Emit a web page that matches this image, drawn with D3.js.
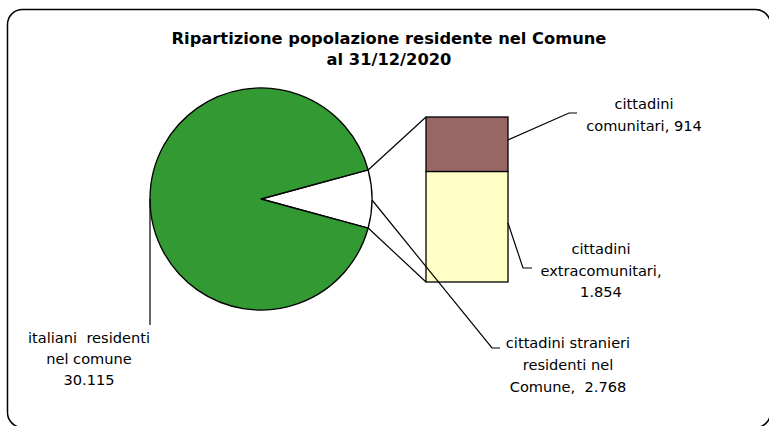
<!DOCTYPE html>
<html>
<head>
<meta charset="utf-8">
<script src="https://cdn.jsdelivr.net/npm/d3@7"></script>
<style>
  body { margin: 0; background: #fff; }
  text { font-family: "DejaVu Sans", sans-serif; fill: #000; white-space: pre; }
</style>
</head>
<body>
<div id="chart"></div>
<script>
// pie slices: italiani vs stranieri
var sliceNames = ["italiani residenti nel comune", "cittadini stranieri residenti nel Comune"];
var sliceValues = [30115, 2768];
// bar breaking down the stranieri slice (bottom -> top)
var barNames = ["cittadini extracomunitari", "cittadini comunitari"];
var barValues = [1854, 914];

var titleLines = ["Ripartizione popolazione residente nel Comune", "al 31/12/2020"];
var italianiLines = ["italiani  residenti", "nel comune", "30.115"];
var stranieriLines = ["cittadini stranieri", "residenti nel", "Comune,  2.768"];
var extraLines = ["cittadini", "extracomunitari,", "1.854"];
var comuniLines = ["cittadini", "comunitari, 914"];

var svgWidth = 769;
var svgHeight = 426;

var svg = d3.select('#chart').append('svg')
    .attr('width', svgWidth)
    .attr('height', svgHeight);

// chart frame
svg.append('rect')
    .attr('x', 7.5).attr('y', 9.5)
    .attr('width', 763).attr('height', 418)
    .attr('rx', 15).attr('ry', 15)
    .attr('fill', '#fff')
    .attr('stroke', '#000')
    .attr('stroke-width', 1.5);

// title
svg.append('text')
    .attr('text-anchor', 'middle')
    .style('font-weight', 'bold')
    .style('font-size', '16.3px')
    .selectAll('tspan')
    .data(titleLines)
    .enter()
    .append('tspan')
    .attr('x', 389)
    .attr('y', (d, i) => 44 + i * 21)
    .text(d => d);

// pie
var cx = 261, cy = 199, radius = 111;
var total = d3.sum(sliceValues);
var wedge = 2 * Math.PI * sliceValues[1] / total;
var pie = d3.pie()
    .sort(null)
    .startAngle(Math.PI / 2 - wedge / 2)
    .endAngle(Math.PI / 2 - wedge / 2 + 2 * Math.PI);
// stranieri first so it sits centred on the right
var arcs = pie([sliceValues[1], sliceValues[0]]);
var arc = d3.arc().innerRadius(0).outerRadius(radius);

var pieG = svg.append('g').attr('transform', `translate(${cx},${cy})`);
pieG.selectAll('path')
    .data(arcs)
    .enter()
    .append('path')
    .attr('d', arc)
    .attr('fill', (d, i) => i == 0 ? '#ffffff' : '#339933')
    .attr('stroke', '#000')
    .attr('stroke-width', 1.3)
    .attr('stroke-linejoin', 'round');

function pointAt(a) {
    return [cx + radius * Math.sin(a), cy - radius * Math.cos(a)];
}
var wedgeTop = pointAt(arcs[0].startAngle);
var wedgeBottom = pointAt(arcs[0].endAngle);

// stacked bar
var barTotal = d3.sum(barValues);
var xBar = d3.scaleBand().domain(["stranieri"]).range([426, 508]).padding(0);
var yBar = d3.scaleLinear().domain([0, barTotal]).range([282, 117]);
var stacked = [];
var acc = 0;
barValues.forEach((v, i) => {
    stacked.push({ name: barNames[i], y0: acc, y1: acc + v });
    acc += v;
});
var barColors = ['#ffffc6', '#996666'];
svg.selectAll('rect.seg')
    .data(stacked)
    .enter()
    .append('rect')
    .classed('seg', true)
    .attr('x', xBar("stranieri"))
    .attr('width', xBar.bandwidth())
    .attr('y', d => yBar(d.y1))
    .attr('height', d => yBar(d.y0) - yBar(d.y1))
    .attr('fill', (d, i) => barColors[i])
    .attr('stroke', '#000')
    .attr('stroke-width', 1.3);

// connector lines pie -> bar
var lineG = svg.append('g').attr('fill', 'none').attr('stroke', '#000').attr('stroke-width', 1.2);
lineG.append('line')
    .attr('x1', wedgeTop[0]).attr('y1', wedgeTop[1])
    .attr('x2', xBar("stranieri")).attr('y2', yBar(barTotal));
lineG.append('line')
    .attr('x1', wedgeBottom[0]).attr('y1', wedgeBottom[1])
    .attr('x2', xBar("stranieri")).attr('y2', yBar(0));

// leader lines
var barRight = xBar("stranieri") + xBar.bandwidth();
var leaders = [
    [[barRight, 140], [569, 113], [577, 113]],
    [[barRight, 223], [523, 268], [532, 268]],
    [[cx + radius, cy + 1], [492, 348], [500, 348]],
    [[cx - radius, cy], [cx - radius, 325]]
];
lineG.selectAll('path')
    .data(leaders)
    .enter()
    .append('path')
    .attr('d', d => d3.line()(d));

// labels
function addLabel(lines, x, y0, step) {
    svg.append('text')
        .attr('text-anchor', 'middle')
        .style('font-size', '14.6px')
        .selectAll('tspan')
        .data(lines)
        .enter()
        .append('tspan')
        .attr('x', x)
        .attr('y', (d, i) => y0 + i * step)
        .text(d => d);
}
addLabel(comuniLines, 644, 109, 22);
addLabel(extraLines, 601, 254, 21.5);
addLabel(stranieriLines, 568, 348, 22);
addLabel(italianiLines, 89, 343, 21);
</script>
</body>
</html>
